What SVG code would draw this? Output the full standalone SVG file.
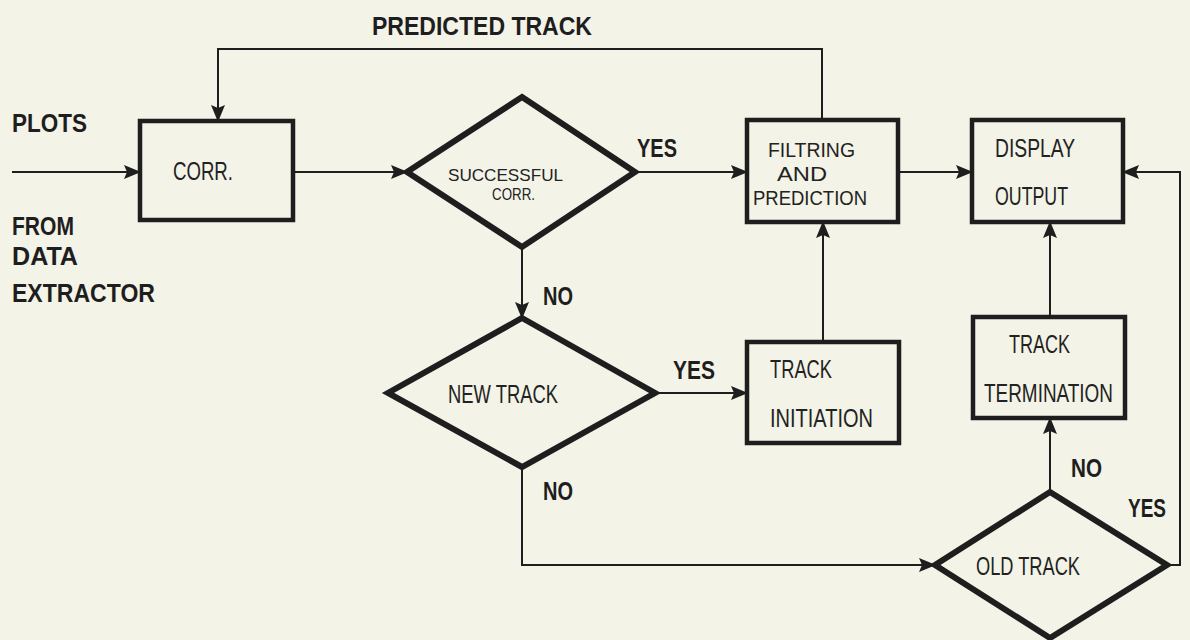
<svg xmlns="http://www.w3.org/2000/svg" width="1190" height="640" viewBox="0 0 1190 640">
<defs>
<marker id="ah" markerUnits="userSpaceOnUse" markerWidth="17" markerHeight="14" refX="16" refY="7" orient="auto">
<path d="M0,0 L17,7 L0,14 L3,7 Z" fill="#1e1e1e"/>
</marker>
<style>
.bg{fill:#f3f3e7}
.box{fill:none;stroke:#1e1e1e;stroke-width:4.5}
.dia{fill:none;stroke:#1e1e1e;stroke-width:6;stroke-linejoin:miter}
.con{fill:none;stroke:#1e1e1e;stroke-width:2}
.lbl{font-family:"Liberation Sans",Arial,sans-serif;font-weight:bold;font-size:26px;fill:#1e1e1e}
.nt{font-family:"Liberation Sans",Arial,sans-serif;font-size:25px;fill:#222}
.st{font-family:"Liberation Sans",Arial,sans-serif;font-size:20px;fill:#222}
.s17{font-size:17px}
.s16{font-size:16px}
</style>
</defs>
<rect class="bg" x="0" y="0" width="1190" height="640"/>

<g id="connectors">
<path class="con" d="M12,172 H140" marker-end="url(#ah)"/>
<path class="con" d="M293,172 H407" marker-end="url(#ah)"/>
<path class="con" d="M635,172 H747" marker-end="url(#ah)"/>
<path class="con" d="M898,172 H972" marker-end="url(#ah)"/>
<path class="con" d="M822,120 V49 H218 V121" marker-end="url(#ah)"/>
<path class="con" d="M522,247 V318" marker-end="url(#ah)"/>
<path class="con" d="M655,393 H747" marker-end="url(#ah)"/>
<path class="con" d="M823,342 V222" marker-end="url(#ah)"/>
<path class="con" d="M522,467 V565 H935" marker-end="url(#ah)"/>
<path class="con" d="M1050,492 V418" marker-end="url(#ah)"/>
<path class="con" d="M1050,317 V222" marker-end="url(#ah)"/>
<path class="con" d="M1167,565 H1180 V172 H1123" marker-end="url(#ah)"/>
</g>

<g id="labels">
<text class="lbl" x="12" y="132" textLength="75" lengthAdjust="spacingAndGlyphs">PLOTS</text>
<text class="lbl" x="12" y="235" textLength="62" lengthAdjust="spacingAndGlyphs">FROM</text>
<text class="lbl" x="12" y="265" textLength="66" lengthAdjust="spacingAndGlyphs">DATA</text>
<text class="lbl" x="12" y="302" textLength="143" lengthAdjust="spacingAndGlyphs">EXTRACTOR</text>
<text class="lbl" x="372" y="35" textLength="220" lengthAdjust="spacingAndGlyphs">PREDICTED TRACK</text>
<text class="lbl" x="637" y="157" textLength="40" lengthAdjust="spacingAndGlyphs">YES</text>
<text class="lbl" x="543" y="305" textLength="30" lengthAdjust="spacingAndGlyphs">NO</text>
<text class="lbl" x="673" y="379" textLength="42" lengthAdjust="spacingAndGlyphs">YES</text>
<text class="lbl" x="543" y="500" textLength="30" lengthAdjust="spacingAndGlyphs">NO</text>
<text class="lbl" x="1071" y="477" textLength="31" lengthAdjust="spacingAndGlyphs">NO</text>
<text class="lbl" x="1128" y="517" textLength="38" lengthAdjust="spacingAndGlyphs">YES</text>
</g>

<g id="corr">
<rect class="box" x="140" y="121" width="153" height="99"/>
<text class="nt" x="173" y="180" textLength="60" lengthAdjust="spacingAndGlyphs">CORR.</text>
</g>

<g id="successful-corr">
<polygon class="dia" points="522,97 635,172 522,247 407,172"/>
<text class="st s17" x="448" y="181" textLength="115" lengthAdjust="spacingAndGlyphs">SUCCESSFUL</text>
<text class="st s16" x="492" y="200" textLength="43" lengthAdjust="spacingAndGlyphs">CORR.</text>
</g>

<g id="filtring">
<rect class="box" x="747" y="120" width="151" height="102"/>
<text class="st" x="768" y="157" textLength="87" lengthAdjust="spacingAndGlyphs">FILTRING</text>
<text class="st" x="777" y="181" textLength="50" lengthAdjust="spacingAndGlyphs">AND</text>
<text class="st" x="753" y="205" textLength="114" lengthAdjust="spacingAndGlyphs">PREDICTION</text>
</g>

<g id="display">
<rect class="box" x="972" y="120" width="151" height="102"/>
<text class="nt" x="995" y="157" textLength="80" lengthAdjust="spacingAndGlyphs">DISPLAY</text>
<text class="nt" x="995" y="205" textLength="73" lengthAdjust="spacingAndGlyphs">OUTPUT</text>
</g>

<g id="new-track">
<polygon class="dia" points="522,318 655,393 522,467 388,393"/>
<text class="nt" x="448" y="403" textLength="110" lengthAdjust="spacingAndGlyphs">NEW TRACK</text>
</g>

<g id="track-initiation">
<rect class="box" x="747" y="342" width="152" height="101"/>
<text class="nt" x="770" y="378" textLength="62" lengthAdjust="spacingAndGlyphs">TRACK</text>
<text class="nt" x="770" y="427" textLength="103" lengthAdjust="spacingAndGlyphs">INITIATION</text>
</g>

<g id="track-termination">
<rect class="box" x="973" y="317" width="152" height="101"/>
<text class="nt" x="1009" y="353" textLength="61" lengthAdjust="spacingAndGlyphs">TRACK</text>
<text class="nt" x="984" y="402" textLength="129" lengthAdjust="spacingAndGlyphs">TERMINATION</text>
</g>

<g id="old-track">
<polygon class="dia" points="1050,492 1167,565 1050,638 935,565"/>
<text class="nt" x="976" y="575" textLength="104" lengthAdjust="spacingAndGlyphs">OLD TRACK</text>
</g>
</svg>
